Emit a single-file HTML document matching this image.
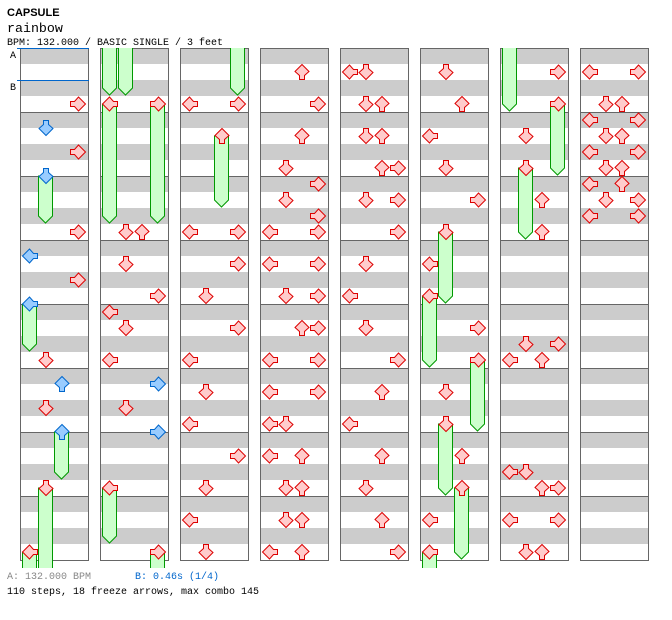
<!DOCTYPE html>
<html><head><meta charset="utf-8"><style>
html,body{margin:0;padding:0;background:#fff;width:672px;height:620px;overflow:hidden}
svg{display:block}
text{font-family:"Liberation Mono",monospace}
</style></head><body>
<svg id="s" width="672" height="620" xmlns="http://www.w3.org/2000/svg">
<defs>
<path id="dn" d="M5.5,0.5H10.5V4.5L15,8.5L8,15.5L1,8.5L5.5,4.5Z"/>
<clipPath id="cp"><rect x="0" y="48" width="672" height="520"/></clipPath>
</defs>
<text x="7" y="16" style="font-family:'Liberation Sans',sans-serif;font-weight:bold;font-size:11px">CAPSULE</text>
<text x="7" y="32" font-size="13.3">rainbow</text>
<text x="7" y="45" font-size="10">BPM: 132.000 / BASIC SINGLE / 3 feet</text>
<text x="10" y="58" font-size="10">A</text>
<text x="10" y="90" font-size="10">B</text>
<text x="7" y="579" font-size="10" fill="#888">A: 132.000 BPM</text>
<text x="135" y="579" font-size="10" fill="#0066cc">B: 0.46s (1/4)</text>
<text x="7" y="594" font-size="10">110 steps, 18 freeze arrows, max combo 145</text>
<g id="g"></g>
</svg>
<script>
var NS="http://www.w3.org/2000/svg",g=document.getElementById('g');
function el(n,a,p){var e=document.createElementNS(NS,n);for(var k in a)e.setAttribute(k,a[k]);(p||g).appendChild(e);return e;}
var A=[
"48R 72D 96R 120D 176R 200L 224R 248L 304D 328U 352D 376U 432D 496L",
"48L 48R 176D 176U 208D 240R 256L 272D 304L 328R 352D 376R 432L 496R",
"48L 48R 80U 176L 176R 208R 240D 272R 304L 336D 368L 400R 432D 464L 496D",
"16U 48R 80U 112D 128R 144D 160R 176L 176R 208L 208R 240D 240R 272U 272R 304L 304R 336L 336R 368L 368D 400L 400U 432D 432U 464D 464U 496L 496U",
"16L 16D 48D 48U 80D 80U 112U 112R 144D 144R 176R 208D 240L 272D 304R 336U 368L 400U 432D 464U 496R",
"16D 48U 80L 112D 144R 176D 208L 240L 272R 304R 336D 368D 400U 432U 464L 496L",
"16R 48R 80D 112D 144U 176U 288D 288R 304L 304U 416L 416D 432U 432R 464L 464R 496D 496U",
"16L 16R 48D 48U 64L 64R 80D 80U 96L 96R 112D 112U 128L 128U 144D 144R 160L 160R"];
var F=[
[[1,120,160],[0,248,288],[2,376,416],[1,432,null],[0,496,null]],
[[0,null,32],[1,null,32],[0,48,160],[3,48,160],[0,432,480],[3,496,null]],
[[3,null,32],[2,80,144]],[],[],
[[1,176,240],[0,240,304],[3,304,368],[1,368,432],[2,432,496],[0,496,null]],
[[0,null,48],[3,48,112],[1,112,176]],[]];
var LN={L:0,D:1,U:2,R:3},ROT=[90,0,180,-90];
for(var c=0;c<8;c++){
 var x0=20+80*c;
 for(var m=0;m<32;m++) if(m%2==0) el('rect',{x:x0,y:48+16*m,width:68,height:16,fill:'#cccccc'});
 for(var m=1;m<8;m++) el('line',{x1:x0,x2:x0+68,y1:48+64*m+.5,y2:48+64*m+.5,stroke:'#666'});
 el('rect',{x:x0+.5,y:48.5,width:68,height:512,fill:'none',stroke:'#666'});
}
el('line',{x1:17,x2:89,y1:48.5,y2:48.5,stroke:'#0066cc'});
el('line',{x1:17,x2:89,y1:80.5,y2:80.5,stroke:'#0066cc'});
var fg=el('g',{'clip-path':'url(#cp)'});
for(var c=0;c<8;c++){
 var x0=20+80*c;
 F[c].forEach(function(f){
  var lx=x0+2+16*f[0]+.5;
  var y0=f[1]===null?40:48+f[1]+8;
  var d;
  if(f[2]===null){d='M'+lx+','+y0+'V572H'+(lx+14)+'V'+y0+'Z';}
  else{var ye=48+f[2]+8;d='M'+lx+','+y0+'V'+ye+'L'+(lx+7)+','+(ye+7)+'L'+(lx+14)+','+ye+'V'+y0+'Z';}
  el('path',{d:d,fill:'#ccffcc',stroke:'#009900'},fg);
 });
}
var ag=el('g',{});
for(var c=0;c<8;c++){
 var x0=20+80*c;
 A[c].split(' ').forEach(function(s){
  var t=parseInt(s),ln=LN[s.slice(-1)];
  var blue=t%16==8;
  var x=x0+2+16*ln,y=48+t;
  var p=el('path',{d:'M5.5,0.5H10.5V4.5L15,8.5L8,15.5L1,8.5L5.5,4.5Z',transform:'translate('+x+','+y+') rotate('+ROT[ln]+',8,8)'},ag);
  p.setAttribute('fill',blue?'#99ccff':'#ffcccc');
  p.setAttribute('stroke',blue?'#0066cc':'#dd0000');
 });
}
</script>
</body></html>
